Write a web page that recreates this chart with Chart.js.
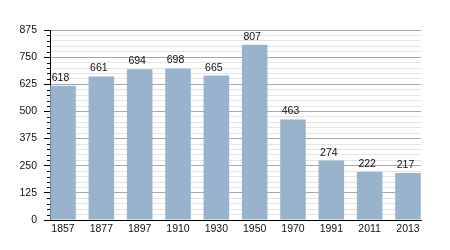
<!DOCTYPE html>
<html>
<head>
<meta charset="utf-8">
<script src="https://cdn.jsdelivr.net/npm/chart.js@4"></script>
<style>
html,body{margin:0;padding:0;background:#fff;}
#wrap{width:450px;height:250px;}
</style>
</head>
<body>
<div id="wrap"><canvas id="c" width="450" height="250"></canvas></div>
<script>
const categories = ['1857','1877','1897','1910','1930','1950','1970','1991','2011','2013'];
const population = [618, 661, 694, 698, 665, 807, 463, 274, 222, 217];
const yTickLabels = [0, 125, 250, 375, 500, 625, 750, 875];
const yMinorStep = 25;

const FONT = {family: '"Liberation Sans", Arial, sans-serif', size: 10.5};

const minorTicks = [];
for (let v = 0; v <= yTickLabels[yTickLabels.length - 1]; v += yMinorStep) minorTicks.push(v);

const labelPlugin = {
  id: 'valueLabels',
  afterDatasetsDraw(chart) {
    const ctx = chart.ctx;
    const meta = chart.getDatasetMeta(0);
    ctx.save();
    ctx.font = FONT.size + 'px ' + FONT.family;
    ctx.fillStyle = '#111';
    ctx.textAlign = 'center';
    ctx.textBaseline = 'alphabetic';
    meta.data.forEach((bar, i) => {
      ctx.fillText(String(population[i]), bar.x - 2.5, bar.y - 5);
    });
    ctx.restore();
  },
  afterDraw(chart) {
    const ctx = chart.ctx;
    const y = chart.scales.y;
    const left = chart.chartArea.left;
    ctx.save();
    ctx.strokeStyle = '#000';
    ctx.lineWidth = 1;
    minorTicks.forEach(v => {
      if (yTickLabels.includes(v)) return;
      const py = Math.round(y.getPixelForValue(v)) + 0.5;
      ctx.beginPath();
      ctx.moveTo(left - 3, py);
      ctx.lineTo(left, py);
      ctx.stroke();
    });
    ctx.restore();
  }
};

new Chart(document.getElementById('c'), {
  type: 'bar',
  data: {
    datasets: [{
      data: population.map((v, i) => ({x: i, y: v})),
      backgroundColor: '#9ab3cd',
      borderWidth: 0,
      barPercentage: 0.667,
      categoryPercentage: 1
    }]
  },
  options: {
    responsive: false,
    animation: false,
    events: [],
    layout: {padding: {top: 30, right: 29, left: 0, bottom: 0}},
    plugins: {legend: {display: false}, tooltip: {enabled: false}},
    scales: {
      x: {
        type: 'linear',
        offset: false,
        min: -0.34,
        max: categories.length - 1 + 0.34,
        afterBuildTicks: s => { s.ticks = categories.map((_, i) => ({value: i})); },
        afterFit: s => { s.height = 30; },
        grid: {display: false, offset: false, drawTicks: false, tickLength: 0},
        border: {display: true, color: '#000', width: 1},
        ticks: {
          autoSkip: false,
          maxRotation: 0,
          padding: 3,
          color: '#111',
          font: FONT,
          callback: v => categories[v]
        }
      },
      y: {
        min: 0,
        max: yTickLabels[yTickLabels.length - 1],
        afterBuildTicks: s => { s.ticks = minorTicks.map(v => ({value: v})); },
        afterFit: s => { s.width = 50; },
        border: {display: true, color: '#000', width: 1},
        grid: {
          color: c => (yTickLabels.includes(c.tick.value) ? '#a8a8a8' : '#e4e4e4'),
          tickColor: c => (yTickLabels.includes(c.tick.value) ? '#000' : 'rgba(0,0,0,0)'),
          tickLength: 6,
          lineWidth: 1
        },
        ticks: {
          autoSkip: false,
          padding: 7,
          color: '#111',
          font: FONT,
          callback: v => (yTickLabels.includes(v) ? String(v) : '')
        }
      }
    }
  },
  plugins: [labelPlugin]
});
</script>
</body>
</html>
